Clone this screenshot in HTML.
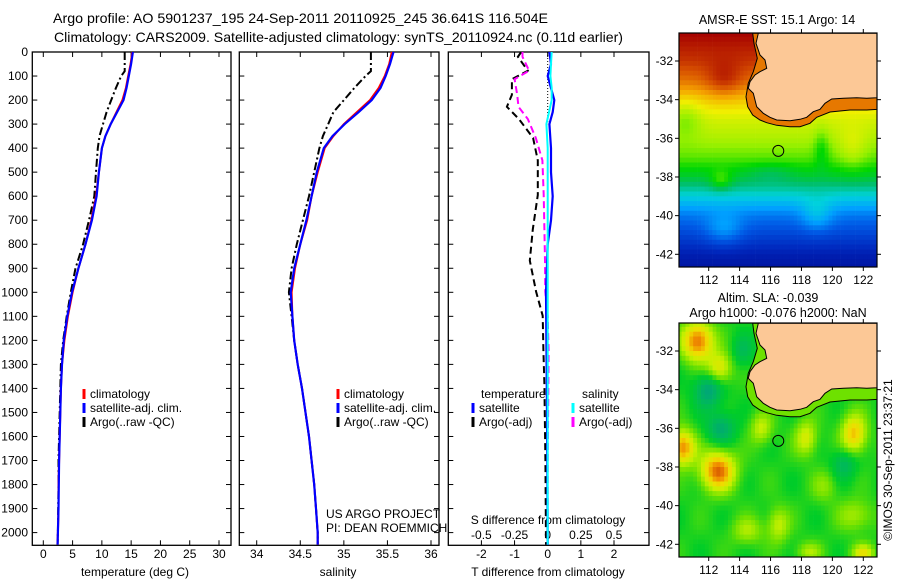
<!DOCTYPE html>
<html><head><meta charset="utf-8"><style>
body{margin:0;background:#fff;}
svg{display:block;font-family:"Liberation Sans",sans-serif;}
</style></head><body>
<svg id="fig" width="900" height="580" viewBox="0 0 900 580" xmlns="http://www.w3.org/2000/svg">
<rect width="900" height="580" fill="#fff"/>
<text x="53" y="23" font-size="14" textLength="495" lengthAdjust="spacingAndGlyphs">Argo profile: AO 5901237_195 24-Sep-2011 20110925_245 36.641S 116.504E</text>
<text x="54" y="42" font-size="14" textLength="569" lengthAdjust="spacingAndGlyphs">Climatology: CARS2009. Satellite-adjusted climatology: synTS_20110924.nc (0.11d earlier)</text>
<g id="g1"></g>
<g id="g2"></g>
<g id="g3"></g>
<g id="m1"></g>
<g id="m2"></g>
<text transform="translate(892,460) rotate(-90)" font-size="12" text-anchor="middle">©IMOS 30-Sep-2011 23:37:21</text>
</svg>
<script>
// ---------- data ----------
const depthT = [0,50,100,150,200,250,300,350,400,500,600,700,800,900,1000,1100,1200,1300,1400,1500,1600,1700,1800,1900,2000,2050];
const tempClim = [15.2,14.9,14.5,14.1,13.5,12.5,11.5,10.6,10.0,9.5,9.0,8.2,7.2,6.0,5.0,4.2,3.6,3.2,3.0,2.9,2.8,2.7,2.6,2.6,2.5,2.4];
const tempSat  = [15.3,15.0,14.6,14.2,13.7,12.6,11.5,10.6,10.0,9.5,9.1,8.3,7.2,6.0,4.9,4.1,3.5,3.2,3.0,2.9,2.8,2.7,2.65,2.6,2.5,2.45];
const depthA = [0,80,100,150,200,250,300,350,400,500,600,700,800,900,1000,1100,1200,1300,1400,1500,1600,1700,1800,1900,2000,2050];
const tempArgo = [13.9,13.9,13.3,12.4,11.6,10.8,10.2,9.6,9.3,9.0,8.7,7.8,6.8,5.5,4.7,4.0,3.4,3.0,2.9,2.8,2.7,2.6,2.6,2.55,2.5,2.45];
const salClim = [35.55,35.52,35.47,35.4,35.3,35.15,35.0,34.88,34.78,34.7,34.63,34.58,34.5,34.44,34.4,34.41,34.43,34.47,34.52,34.56,34.6,34.63,34.66,34.68,34.7,34.7];
const salSat  = [35.57,35.53,35.48,35.42,35.32,35.17,35.01,34.87,34.77,34.69,34.63,34.57,34.5,34.43,34.39,34.41,34.43,34.47,34.52,34.56,34.6,34.63,34.66,34.68,34.7,34.7];
const salArgo = [35.31,35.31,35.25,35.12,35.0,34.88,34.82,34.76,34.72,34.66,34.6,34.53,34.46,34.4,34.37,34.4,34.43,34.47,34.52,34.56,34.6,34.63,34.66,34.68,34.7,34.7];
const depthD = [0,20,78,113,178,228,279,358,451,595,738,868,997,1098,1241,1385,1700,2050];
const tDiffArgo = [-0.8,-0.9,-0.6,-1.08,-1.08,-1.23,-0.87,-0.44,-0.3,-0.3,-0.45,-0.54,-0.35,-0.15,-0.13,-0.1,-0.07,-0.05];
const sDiffArgo = [-0.19,-0.19,-0.14,-0.25,-0.23,-0.22,-0.15,-0.09,-0.04,-0.03,-0.025,-0.02,-0.018,0.0,0.007,0.005,0.0,0.0];
const depthS = [0,50,100,150,200,250,300,400,500,600,700,800,1000,1500,2050];
const tDiffSat = [0.05,0.1,0.0,0.1,0.2,0.15,0.05,0.1,0.1,0.15,0.1,0.0,-0.05,-0.02,0.0];
const sDiffSat = [0.03,0.025,0.02,0.03,0.03,0.01,-0.01,0.0,0.0,0.0,0.0,0.0,0.0,0.0,0.0];
const depthTicks = [0,100,200,300,400,500,600,700,800,900,1000,1100,1200,1300,1400,1500,1600,1700,1800,1900,2000];
const tempTicks = [0,5,10,15,20,25,30];
const salTicks = [34,34.5,35,35.5,36];
const tdTicks = [-2,-1,0,1,2];
const sdTicks = [-0.5,-0.25,0,0.25,0.5];
const sdLabels = ['-0.5','-0.25','0','0.25','0.5'];
const mapLonTicks = [112,114,116,118,120,122];
const mapLatTicks = [-32,-34,-36,-38,-40,-42];
const argoLon = 116.5, argoLat = -36.65;

// ---------- helpers ----------
const NS='http://www.w3.org/2000/svg';
function mk(parent, tag, attrs, txt){const e=document.createElementNS(NS,tag);for(const k in attrs)e.setAttribute(k,attrs[k]);if(txt!==undefined)e.textContent=txt;parent.appendChild(e);return e;}
const TOP=52, BOT=545.3;
const yD = d => 52 + d*0.2403;
function lin(d0,d1,r0,r1){return v=>r0+(v-d0)*(r1-r0)/(d1-d0);}
const xT = lin(0,30,43.3,219);
const xS = lin(34,36,256.7,431);
const xTD = lin(0,2,547.7,614);
const xSD = v => xTD(4*v);

function frame(g,x0,x1,name){
  const r=mk(g,'rect',{x:x0,y:TOP,width:x1-x0,height:BOT-TOP,fill:'none',stroke:'#000','stroke-width':1.3});
  
  
  depthTicks.forEach(d=>{const y=yD(d);
    mk(g,'line',{x1:x0,y1:y,x2:x0+5,y2:y,stroke:'#000'});
    mk(g,'line',{x1:x1,y1:y,x2:x1-5,y2:y,stroke:'#000'});});
}
function xticks(g,ticks,sc,fmt,ly,name){
  ticks.forEach(v=>{const x=sc(v);
    mk(g,'line',{x1:x,y1:BOT,x2:x,y2:BOT-5,stroke:'#000'});
    mk(g,'line',{x1:x,y1:TOP,x2:x,y2:TOP+5,stroke:'#000'});
    const t=mk(g,'text',{x:x,y:ly,'font-size':12,'text-anchor':'middle'},fmt(v));
    
    });
}
function line(g,xs,ds,sx,color,w,dash,name){
  const p=xs.map((v,i)=>(i?'L':'M')+sx(v).toFixed(1)+' '+yD(ds[i]).toFixed(1)).join(' ');
  const e=mk(g,'path',{d:p,fill:'none',stroke:color,'stroke-width':w,'stroke-dasharray':dash||'none'});
  
  
}
function legendItem(g,x,y,color,label,name){
  mk(g,'rect',{x:x-1.5,y:y-9,width:3,height:10,fill:color});
  const t=mk(g,'text',{x:x+6,y:y,'font-size':12},label);
  
  
}

// ---------- panel 1 ----------
const g1=document.getElementById('g1');
frame(g1,32.3,231,'temperature-axes');
depthTicks.forEach(d=>{const t=mk(g1,'text',{x:28,y:yD(d)+4,'font-size':12,'text-anchor':'end'},String(d));
  
  });
xticks(g1,tempTicks,xT,String,558,'temperature-tick-label');
mk(g1,'text',{x:135,y:576,'font-size':12,'text-anchor':'middle'},'temperature (deg C)');
line(g1,tempArgo,depthA,xT,'#000',2,'8,3,2,3','argo-temperature-line');
line(g1,tempClim,depthT,xT,'#f00',2,null,'climatology-temperature-line');
line(g1,tempSat,depthT,xT,'#00f',2.2,null,'satellite-temperature-line');
legendItem(g1,84,398,'#f00','climatology','legend-climatology');
legendItem(g1,84,412,'#00f','satellite-adj. clim.','legend-satellite');
legendItem(g1,84,426,'#000','Argo(..raw -QC)','legend-argo');

// ---------- panel 2 ----------
const g2=document.getElementById('g2');
frame(g2,239.3,439,'salinity-axes');
xticks(g2,salTicks,xS,String,558,'salinity-tick-label');
mk(g2,'text',{x:338,y:576,'font-size':12,'text-anchor':'middle'},'salinity');
line(g2,salArgo,depthA,xS,'#000',2,'8,3,2,3','argo-salinity-line');
line(g2,salClim,depthT,xS,'#f00',2,null,'climatology-salinity-line');
line(g2,salSat,depthT,xS,'#00f',2.2,null,'satellite-salinity-line');
legendItem(g2,338,398,'#f00','climatology','legend-climatology');
legendItem(g2,338,412,'#00f','satellite-adj. clim.','legend-satellite');
legendItem(g2,338,426,'#000','Argo(..raw -QC)','legend-argo');
mk(g2,'text',{x:326,y:518,'font-size':12},'US ARGO PROJECT');
mk(g2,'text',{x:326,y:532,'font-size':12},'PI: DEAN ROEMMICH');

// ---------- panel 3 ----------
const g3=document.getElementById('g3');
frame(g3,448.3,649,'difference-axes');
xticks(g3,tdTicks,xTD,String,558,'t-diff-tick-label');
sdTicks.forEach((v,i)=>{const t=mk(g3,'text',{x:xSD(v),y:539,'font-size':12,'text-anchor':'middle'},sdLabels[i]);
  
  });
mk(g3,'text',{x:548,y:524,'font-size':12,'text-anchor':'middle'},'S difference from climatology');
mk(g3,'text',{x:548,y:576,'font-size':12,'text-anchor':'middle'},'T difference from climatology');
mk(g3,'line',{x1:xTD(0),y1:TOP,x2:xTD(0),y2:yD(300),stroke:'#000','stroke-dasharray':'1,2'});
line(g3,tDiffArgo,depthD,xTD,'#000',2,'7,4','argo-t-diff-line');
line(g3,sDiffArgo,depthD,xSD,'#f0f',2,'7,4','argo-s-diff-line');
line(g3,tDiffSat,depthS,xTD,'#00f',2.2,null,'satellite-t-diff-line');
line(g3,sDiffSat,depthS,xSD,'#0ff',2,null,'satellite-s-diff-line');
mk(g3,'text',{x:481,y:398,'font-size':12},'temperature');
legendItem(g3,473,412,'#00f','satellite','legend-t-satellite');
legendItem(g3,473,426,'#000','Argo(-adj)','legend-t-argo');
mk(g3,'text',{x:582,y:398,'font-size':12},'salinity');
legendItem(g3,573,412,'#0ff','satellite','legend-s-satellite');
legendItem(g3,573,426,'#f0f','Argo(-adj)','legend-s-argo');

// ---------- maps ----------
const mx = lin(112,122,708.7,863.3);
const myLat = lat => 61 + (-32-lat)*19.33;
function gauss(lon,lat,c){const dx=(lon-c[0])/c[2],dy=(lat-c[1])/c[3];return c[4]*Math.exp(-(dx*dx+dy*dy));}
function interp(stops,t){t=Math.max(0,Math.min(1,t));const n=stops.length-1;const f=t*n;const i=Math.min(n-1,Math.floor(f));const u=f-i;
  const a=stops[i],b=stops[i+1];return 'rgb('+a.map((v,k)=>Math.round(v+(b[k]-v)*u)).join(',')+')';}
const sstStops=[[0,0,130],[0,40,190],[0,90,230],[0,160,255],[0,210,220],[0,190,100],[0,215,0],[150,240,0],[240,240,0],[245,160,0],[215,80,0],[165,0,0]];
const slaStops=[[0,160,130],[0,185,90],[0,205,40],[110,225,0],[200,240,0],[240,220,0],[240,140,0],[200,60,0]];
const latProf=[[-30.5,1.0],[-32,0.94],[-33,0.87],[-34,0.77],[-35,0.7],[-36,0.66],[-37,0.6],[-38,0.5],[-39,0.36],[-40,0.22],[-41,0.14],[-42,0.07],[-43,0.04]];
const sstBlobs=[[113,-33,1.2,0.9,0.08],[110.5,-35,1,1,-0.07],[121.3,-36.6,0.9,1.1,0.06],[119.3,-36.5,0.5,1,-0.08],[112.8,-38.2,0.7,0.5,0.1],[113,-40.7,1.2,0.8,0.1],[119,-40,1,0.8,0.1],[116,-37.8,1.5,0.5,-0.05]];
const slaBlobs=[[111.3,-31.5,1.0,1.0,0.6],[112.7,-32.9,0.8,0.8,0.35],[110.3,-37,0.8,0.9,0.55],[112.6,-38.2,1.1,1.0,0.6],[121.4,-36.3,0.8,1.0,0.45],[118.3,-36.5,0.7,0.9,0.3],[115.4,-36,0.7,0.8,0.25],[112,-34,0.9,0.9,-0.3],[112.8,-36,0.9,0.8,-0.25],[120.8,-37.8,0.8,0.8,-0.2],[114.2,-32,0.7,0.8,-0.15],[116.5,-41,0.7,0.9,0.25],[114.5,-41.3,1.0,0.7,0.2],[121.5,-40.5,1.1,0.8,0.2],[119.5,-39,0.8,0.8,0.15],[122,-42.5,0.7,0.5,0.35],[118.5,-42.4,0.8,0.5,0.2]];
function latBase(lat){for(let i=0;i<latProf.length-1;i++){const a=latProf[i],b=latProf[i+1];if(lat<=a[0]&&lat>=b[0])return a[1]+(lat-a[0])*(b[1]-a[1])/(b[0]-a[0]);}return 0.04;}
const landPts=[[325,100],[318,130],[330,165],[345,180],[350,205],[330,215],[315,225],[300,245],[295,265],[310,280],[315,300],[320,320],[340,340],[360,352],[380,360],[420,362],[450,358],[470,352],[490,335],[510,328],[525,310],[545,297],[580,295],[620,293],[650,295],[682,293],[682,100]];
const shelfPts=[[308,100],[312,130],[322,175],[310,215],[295,250],[288,290],[293,320],[308,345],[330,360],[350,368],[380,376],[420,380],[450,380],[480,370],[500,352],[540,336],[600,330],[650,330],[682,328],[682,100]];
function drawMap(gid,dy,field,stops,shelfColor,clipId,name){
  const g=document.getElementById(gid);
  const x0=679,x1=877,y0=33+dy,y1=267+dy;
  const defs=mk(g,'defs',{});const cp=mk(defs,'clipPath',{id:clipId});mk(cp,'rect',{x:x0,y:y0,width:x1-x0,height:y1-y0});
  const cg=mk(g,'g',{'clip-path':'url(#'+clipId+')'});
  for(let lon=110;lon<123;lon+=0.25){for(let lat=-30.5;lat>-42.75;lat-=0.25){
    mk(cg,'rect',{x:mx(lon).toFixed(1),y:(myLat(lat)+dy).toFixed(1),width:4.2,height:5.2,fill:interp(stops,field(lon+0.125,lat-0.125))});
  }}
  const pp=pts=>pts.map((p,i)=>(i?'L':'M')+(650+p[0]/3).toFixed(1)+' '+(p[1]/3+dy).toFixed(1)).join(' ')+'Z';
  mk(cg,'path',{d:pp(shelfPts),fill:shelfColor,stroke:'#000','stroke-width':1});
  const land=mk(cg,'path',{d:pp(landPts),fill:'#fcc896',stroke:'#000','stroke-width':1});
  
  
  const m=mk(g,'circle',{cx:mx(argoLon),cy:myLat(argoLat)+dy,r:5.5,fill:'none',stroke:'#000','stroke-width':1});
  
  
  const fr=mk(g,'rect',{x:x0,y:y0,width:x1-x0,height:y1-y0,fill:'none',stroke:'#000','stroke-width':1.2});
  
  
  mapLonTicks.forEach(v=>{const x=mx(v);
    mk(g,'line',{x1:x,y1:y0,x2:x,y2:y0-4,stroke:'#000'});mk(g,'line',{x1:x,y1:y1,x2:x,y2:y1+4,stroke:'#000'});
    const t=mk(g,'text',{x:x,y:y1+17,'font-size':12,'text-anchor':'middle'},String(v));
    
    });
  mapLatTicks.forEach(v=>{const y=myLat(v)+dy;
    mk(g,'line',{x1:x0,y1:y,x2:x0-4,y2:y,stroke:'#000'});mk(g,'line',{x1:x1,y1:y,x2:x1+4,y2:y,stroke:'#000'});
    const t=mk(g,'text',{x:673,y:y+4,'font-size':12,'text-anchor':'end'},String(v));
    
    });
}
drawMap('m1',0,(lon,lat)=>{let v=latBase(lat);sstBlobs.forEach(b=>v+=gauss(lon,lat,b));return v;},sstStops,'rgb(230,120,0)','clip1','sst-map');
drawMap('m2',290,(lon,lat)=>{let v=0.32+0.04*Math.sin(lon*2.1)*Math.cos(lat*1.7);slaBlobs.forEach(b=>v+=gauss(lon,lat,b));return v;},slaStops,'rgb(110,225,0)','clip2','sla-map');
const m1=document.getElementById('m1');
mk(m1,'text',{x:777,y:24,'font-size':12.5,'text-anchor':'middle'},'AMSR-E SST: 15.1 Argo: 14');
const m2=document.getElementById('m2');
mk(m2,'text',{x:768,y:302,'font-size':12.5,'text-anchor':'middle'},'Altim. SLA: -0.039');
mk(m2,'text',{x:778,y:317,'font-size':12.5,'text-anchor':'middle'},'Argo h1000: -0.076 h2000: NaN');
</script>
</body></html>
